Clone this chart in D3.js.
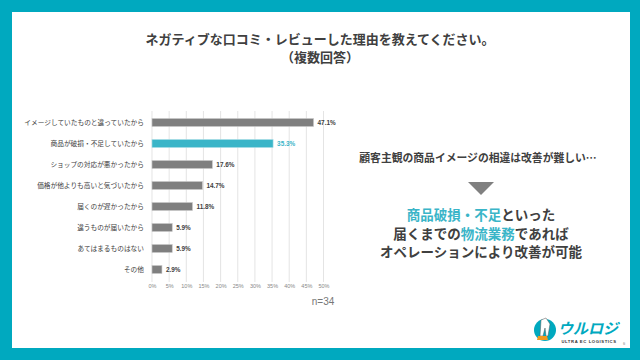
<!DOCTYPE html>
<html><head><meta charset="utf-8">
<script src="https://cdn.jsdelivr.net/npm/d3@7"></script>
<style>
html,body{margin:0;padding:0;background:#fff;}
svg{display:block;font-family:"Noto Sans CJK JP","Noto Sans",sans-serif;}
</style></head>
<body>
<svg id="c" width="640" height="360"></svg>
<script>
const categories = ["イメージしていたものと違っていたから","商品が破損・不足していたから","ショップの対応が悪かったから","価格が他よりも高いと気づいたから","届くのが遅かったから","違うものが届いたから","あてはまるものはない","その他"];
const values = [47.1, 35.3, 17.6, 14.7, 11.8, 5.9, 5.9, 2.9];
const highlighted = ["商品が破損・不足していたから"];
const ticks = [0,5,10,15,20,25,30,35,40,45,50];
const titleLines = ["ネガティブな口コミ・レビューした理由を教えてください。","（複数回答）"];
const noteText = "顧客主観の商品イメージの相違は改善が難しい…";
const sampleText = "n=34";

const teal = "#00a9bf", hl = "#3ab5c8", gray = "#7f7f7f", dark = "#404040";
const svg = d3.select("#c");
svg.append("rect").attr("width",640).attr("height",360).attr("fill",teal);
svg.append("rect").attr("x",12).attr("y",12).attr("width",618).attr("height",336).attr("fill","#fff");

// title
svg.append("g").selectAll("text").data(titleLines).join("text")
  .attr("x",320).attr("y",(d,i)=>44+i*18).attr("text-anchor","middle")
  .attr("font-size",13).attr("font-weight","bold").attr("fill",dark).text(d=>d);

const x = d3.scaleLinear().domain([0,50]).range([152,323.5]);
const y = d3.scaleBand().domain(categories).range([112,280]).paddingInner(0.62).paddingOuter(0.31);

// grid
svg.append("g").selectAll("line").data(ticks).join("line")
  .attr("x1",d=>x(d)).attr("x2",d=>x(d)).attr("y1",111).attr("y2",282)
  .attr("stroke","#d9d9d9").attr("stroke-width",0.7);

// axis labels
const ax = d3.axisBottom(x).tickValues(ticks).tickFormat(d=>d+"%").tickSize(0).tickPadding(0);
const axg = svg.append("g").attr("transform","translate(0,283)").call(ax);
axg.select(".domain").remove();
axg.selectAll("text").attr("font-size",5.5).attr("fill","#888").attr("dy","0.9em")
  .attr("font-family","Liberation Sans, sans-serif");

// bars
const isHl = c => highlighted.includes(c);
svg.append("g").selectAll("rect").data(categories).join("rect")
  .attr("x",x(0)).attr("y",d=>y(d)).attr("width",(d,i)=>x(values[i])-x(0))
  .attr("height",y.bandwidth()).attr("fill",d=>isHl(d)?hl:gray)
  .attr("stroke",d=>isHl(d)?"#a9dde6":"#c8c8c8").attr("stroke-width",0.6);

// category labels
svg.append("g").selectAll("text").data(categories).join("text")
  .attr("x",144).attr("y",d=>y(d)+y.bandwidth()/2).attr("dy","0.35em")
  .attr("text-anchor","end").attr("font-size",6.7).attr("fill",dark).text(d=>d);

// value labels
svg.append("g").selectAll("text").data(categories).join("text")
  .attr("x",(d,i)=>x(values[i])+4).attr("y",d=>y(d)+y.bandwidth()/2).attr("dy","0.35em")
  .attr("font-size",6.4).attr("font-weight","bold").attr("font-family","Liberation Sans, sans-serif")
  .attr("fill",d=>isHl(d)?hl:dark).text((d,i)=>values[i].toFixed(1)+"%");

svg.append("text").attr("x",323).attr("y",305).attr("text-anchor","middle")
  .attr("font-size",10).attr("fill","#777").attr("font-family","Liberation Sans, sans-serif").text(sampleText);

// right side note
svg.append("text").attr("x",478).attr("y",162).attr("text-anchor","middle")
  .attr("font-size",10.8).attr("fill",dark).attr("font-weight","bold").text(noteText);
svg.append("path").attr("d","M468,182 L494,182 L481,195 Z").attr("fill","#808080");

const lines = [
  [["商品破損・不足",hl],["といった",dark]],
  [["届くまでの",dark],["物流業務",hl],["であれば",dark]],
  [["オペレーションにより改善が可能",dark]]
];
const tg = svg.append("g");
lines.forEach((ln,i)=>{
  const t = tg.append("text").attr("x",481).attr("y",220+i*18.5).attr("text-anchor","middle")
    .attr("font-size",13.5).attr("font-weight","bold");
  ln.forEach(([s,c])=>t.append("tspan").attr("fill",c).text(s));
});

// logo
const lg = svg.append("g");
lg.append("circle").attr("cx",545).attr("cy",330).attr("r",11).attr("fill",teal);
lg.append("path").attr("d","M541,320 L546,318 L550,324 L548,336 L546,336 L545,328 L543,336 L540,336 Z").attr("fill","#fff").attr("stroke","#555").attr("stroke-width",0.5);
lg.append("path").attr("d","M538,336 L547,336 L548,340 L537,340 Z").attr("fill","#f39a1e");
lg.append("text").attr("x",588).attr("y",334).attr("text-anchor","middle").attr("font-size",15)
  .attr("font-weight","bold").attr("font-style","italic").attr("fill",teal).text("ウルロジ");
lg.append("text").attr("x",589).attr("y",343).attr("text-anchor","middle").attr("font-size",4.2)
  .attr("font-weight","bold").attr("fill","#333").attr("letter-spacing",0.6)
  .attr("font-family","Liberation Sans, sans-serif").text("ULTRA EC LOGISTICS");
svg.append("text").attr("x",623).attr("y",345).attr("font-size",4).attr("fill","#888").text("6");
</script>
</body></html>
